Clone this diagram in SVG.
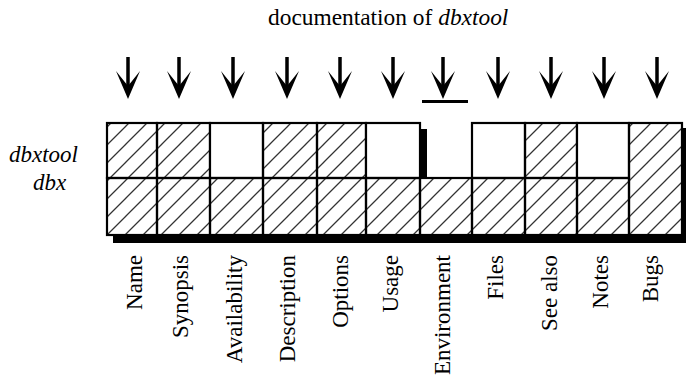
<svg xmlns="http://www.w3.org/2000/svg" width="686" height="381" viewBox="0 0 686 381">
<defs>
<pattern id="hatch" patternUnits="userSpaceOnUse" width="18" height="18">
<path d="M0,18 L18,0 M-4.5,4.5 L4.5,-4.5 M13.5,22.5 L22.5,13.5" stroke="#333" stroke-width="1.3" fill="none"/>
</pattern>
<path id="ah" d="M0,0 L-12,-28 L0,-13 L12,-28 Z"/>
</defs>
<style>
.t{font-family:'Liberation Serif','DejaVu Serif',serif;font-size:23px;fill:#000}
.it{font-style:italic}
.lbl{text-anchor:end}
.h{fill:url(#hatch);stroke:#000;stroke-width:2.2}
.w{fill:#fff;stroke:#000;stroke-width:2.2}
.sh{fill:#000}
.shaft{stroke:#000;stroke-width:3.5}
</style>
<rect width="686" height="381" fill="#fff"/>
<g font-family="Liberation Serif, DejaVu Serif, serif" font-size="23">
<text class="t" x="268" y="25" style="font-size:23.4px">documentation of <tspan class="it">dbxtool</tspan></text>
<text class="t it" x="9" y="162">dbxtool</text>
<text class="t it" x="33" y="190">dbx</text>
<g id="shadows">
<rect class="sh" x="113" y="236" width="580" height="7"/>
<rect class="sh" x="683" y="128" width="8" height="115"/>
<rect class="sh" x="420" y="129" width="7" height="48"/>
</g>
<g id="col-name"><rect class="h" x="107" y="123" width="50" height="55"/><rect class="h" x="107" y="178" width="50" height="57"/><text class="t lbl" x="142" y="255" transform="rotate(-90 142 255)">Name</text></g>
<g id="col-synopsis"><rect class="h" x="157" y="123" width="53" height="55"/><rect class="h" x="157" y="178" width="53" height="57"/><text class="t lbl" x="188" y="255" transform="rotate(-90 188 255)">Synopsis</text></g>
<g id="col-availability"><rect class="w" x="210" y="123" width="53" height="55"/><rect class="h" x="210" y="178" width="53" height="57"/><text class="t lbl" x="242" y="255" transform="rotate(-90 242 255)">Availability</text></g>
<g id="col-description"><rect class="h" x="263" y="123" width="54" height="55"/><rect class="h" x="263" y="178" width="54" height="57"/><text class="t lbl" x="295" y="255" transform="rotate(-90 295 255)">Description</text></g>
<g id="col-options"><rect class="h" x="317" y="123" width="49" height="55"/><rect class="h" x="317" y="178" width="49" height="57"/><text class="t lbl" x="348" y="255" transform="rotate(-90 348 255)">Options</text></g>
<g id="col-usage"><rect class="w" x="366" y="123" width="54" height="55"/><rect class="h" x="366" y="178" width="54" height="57"/><text class="t lbl" x="398" y="255" transform="rotate(-90 398 255)">Usage</text></g>
<g id="col-environment"><rect class="h" x="420" y="178" width="52" height="57"/><text class="t lbl" x="450" y="255" transform="rotate(-90 450 255)">Environment</text></g>
<g id="col-files"><rect class="w" x="472" y="123" width="53" height="55"/><rect class="h" x="472" y="178" width="53" height="57"/><text class="t lbl" x="503" y="255" transform="rotate(-90 503 255)">Files</text></g>
<g id="col-seealso"><rect class="h" x="525" y="123" width="52" height="55"/><rect class="h" x="525" y="178" width="52" height="57"/><text class="t lbl" x="557" y="255" transform="rotate(-90 557 255)">See also</text></g>
<g id="col-notes"><rect class="w" x="577" y="123" width="52" height="55"/><rect class="h" x="577" y="178" width="52" height="57"/><text class="t lbl" x="608" y="255" transform="rotate(-90 608 255)">Notes</text></g>
<g id="col-bugs"><rect class="h" x="629" y="123" width="53" height="112"/><text class="t lbl" x="658" y="255" transform="rotate(-90 658 255)">Bugs</text></g>
</g>
<g id="connectors">
<g transform="translate(128,99)"><line class="shaft" x1="0" y1="-42" x2="0" y2="-10"/><use href="#ah"/></g>
<g transform="translate(179,99)"><line class="shaft" x1="0" y1="-42" x2="0" y2="-10"/><use href="#ah"/></g>
<g transform="translate(233,99)"><line class="shaft" x1="0" y1="-42" x2="0" y2="-10"/><use href="#ah"/></g>
<g transform="translate(287,99)"><line class="shaft" x1="0" y1="-42" x2="0" y2="-10"/><use href="#ah"/></g>
<g transform="translate(340,99)"><line class="shaft" x1="0" y1="-42" x2="0" y2="-10"/><use href="#ah"/></g>
<g transform="translate(393,99)"><line class="shaft" x1="0" y1="-42" x2="0" y2="-10"/><use href="#ah"/></g>
<g transform="translate(443,99)"><line class="shaft" x1="0" y1="-42" x2="0" y2="-10"/><use href="#ah"/></g>
<rect class="sh" x="422" y="100" width="46" height="3"/>
<g transform="translate(498,99)"><line class="shaft" x1="0" y1="-42" x2="0" y2="-10"/><use href="#ah"/></g>
<g transform="translate(551,99)"><line class="shaft" x1="0" y1="-42" x2="0" y2="-10"/><use href="#ah"/></g>
<g transform="translate(604,99)"><line class="shaft" x1="0" y1="-42" x2="0" y2="-10"/><use href="#ah"/></g>
<g transform="translate(657,99)"><line class="shaft" x1="0" y1="-42" x2="0" y2="-10"/><use href="#ah"/></g>
</g>
</svg>
